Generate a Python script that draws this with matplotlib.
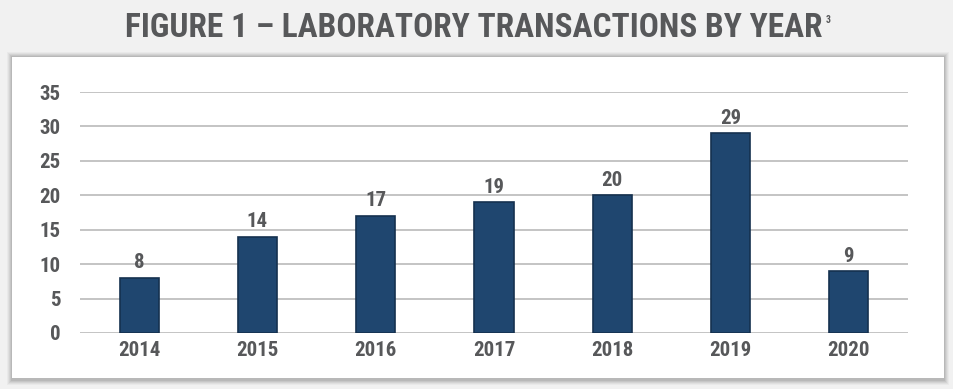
import matplotlib
matplotlib.use("Agg")
import matplotlib.pyplot as plt
from matplotlib.patches import Rectangle

years = ["2014", "2015", "2016", "2017", "2018", "2019", "2020"]
transactions = [8, 14, 17, 19, 20, 29, 9]
yticks = [0, 5, 10, 15, 20, 25, 30, 35]

fam = ["Roboto Condensed", "Open Sans Condensed", "Liberation Sans Narrow", "Roboto", "DejaVu Sans"]

W, H = 954, 389
fig = plt.figure(figsize=(W / 100, H / 100), dpi=100)
fig.patch.set_facecolor("#f1f1f1")

txt = "#57585a"
font = dict(family=fam, weight="bold")

# white panel with soft shadow
for i, a in enumerate([0.03, 0.04, 0.05, 0.06, 0.07]):
    d = 5 - i
    fig.patches.append(Rectangle(((12 - d) / W, (389 - 380 - d) / H), (932 + 2 * d) / W, (323 + 2 * d) / H,
                                 transform=fig.transFigure, facecolor="black", alpha=a,
                                 edgecolor="none", zorder=-2))
fig.patches.append(Rectangle((12 / W, (389 - 378) / H), 932 / W, 321 / H,
                             transform=fig.transFigure, facecolor="white",
                             edgecolor="none", zorder=-1))

title = fig.text(0.497, (389 - 28) / H, "FIGURE 1 – LABORATORY TRANSACTIONS BY YEAR",
                 ha="center", va="center", fontsize=24, color=txt, **font)

ax = fig.add_axes([80 / W, 56 / H, 828 / W, 241 / H])
ax.set_facecolor("none")
ax.annotate("3", xy=(1, 1), xycoords=title, xytext=(2, -2), textcoords="offset points",
            ha="left", va="top", fontsize=7, color=txt, annotation_clip=False, **font)

x = list(range(len(years)))
ax.bar(x, transactions, width=0.33, color="#1f466f", edgecolor="#15314f",
       linewidth=1.2, zorder=3)
for xi, v in zip(x, transactions):
    ax.text(xi, v + 0.8, str(v), ha="center", va="bottom", fontsize=15, color=txt, **font)

ax.set_xlim(-0.5, 6.5)
ax.set_ylim(0, 35)
ax.set_yticks(yticks)
ax.set_yticklabels([str(t) for t in yticks])
ax.set_xticks(x)
ax.set_xticklabels(years)
for lab in ax.get_xticklabels() + ax.get_yticklabels():
    lab.set_fontsize(15)
    lab.set_color(txt)
    lab.set_fontfamily(fam)
    lab.set_fontweight("bold")
ax.tick_params(axis="both", length=0)
ax.tick_params(axis="y", pad=14)
ax.tick_params(axis="x", pad=6)
ax.grid(axis="y", color="#c4c4c4", linewidth=1.4, zorder=0)
for s in ax.spines.values():
    s.set_visible(False)

fig.savefig("out.png", dpi=100, facecolor=fig.get_facecolor())
